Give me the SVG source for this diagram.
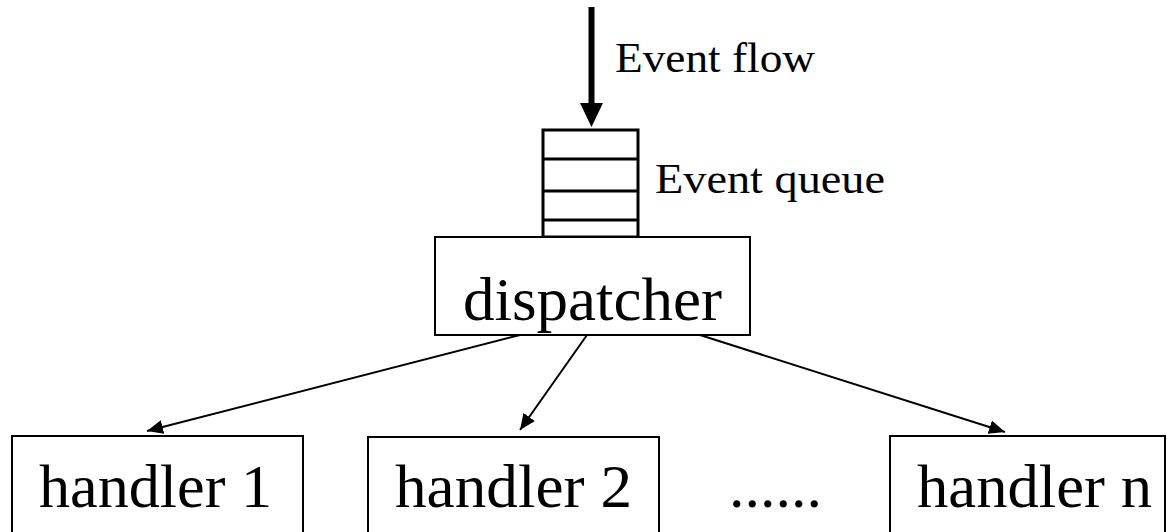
<svg xmlns="http://www.w3.org/2000/svg" width="1167" height="532" viewBox="0 0 1167 532">
  <style>
    .box { fill: #fff; stroke: #000; stroke-width: 2; }
    .queue { fill: #fff; stroke: #000; stroke-width: 3; }
    .big { font-family: "Liberation Serif", "Times New Roman", serif; font-size: 62px; fill: #000; }
    .small { font-family: "Liberation Serif", "Times New Roman", serif; font-size: 42px; fill: #000; }
    .link { stroke: #000; stroke-width: 2; fill: none; marker-end: url(#head); }
  </style>
  <defs>
    <marker id="head" markerUnits="userSpaceOnUse" markerWidth="18" markerHeight="14" refX="16" refY="7" orient="auto">
      <path d="M0,0 L16,7 L0,14 Z" fill="#000"/>
    </marker>
  </defs>
  <rect width="1167" height="532" fill="#fff"/>

  <!-- incoming event flow -->
  <g id="event-flow">
    <rect x="588.5" y="7" width="6" height="97" fill="#000"/>
    <path d="M580,103 L603,103 L591.5,127 Z" fill="#000"/>
    <text class="small" x="615" y="72" textLength="200" lengthAdjust="spacingAndGlyphs">Event flow</text>
  </g>

  <!-- event queue -->
  <g id="event-queue">
    <rect class="queue" x="543" y="130" width="95" height="107"/>
    <line x1="543" y1="159" x2="638" y2="159" stroke="#000" stroke-width="3"/>
    <line x1="543" y1="191" x2="638" y2="191" stroke="#000" stroke-width="3"/>
    <line x1="543" y1="220" x2="638" y2="220" stroke="#000" stroke-width="3"/>
    <text class="small" x="655" y="193" textLength="230" lengthAdjust="spacingAndGlyphs">Event queue</text>
  </g>

  <!-- dispatcher -->
  <g id="dispatcher">
    <rect class="box" x="435" y="237" width="315" height="98"/>
    <text class="big" x="463" y="320" textLength="259" lengthAdjust="spacingAndGlyphs">dispatcher</text>
  </g>

  <!-- connectors -->
  <g id="connectors">
    <line class="link" x1="520" y1="335" x2="147" y2="431"/>
    <line class="link" x1="587" y1="335" x2="520" y2="430"/>
    <line class="link" x1="700" y1="335" x2="1005" y2="432"/>
  </g>

  <!-- handlers -->
  <g id="handler-1">
    <rect class="box" x="12" y="436" width="291" height="110"/>
    <text class="big" x="39" y="507" textLength="233" lengthAdjust="spacingAndGlyphs">handler 1</text>
  </g>
  <g id="handler-2">
    <rect class="box" x="368" y="437" width="291" height="110"/>
    <text class="big" x="395" y="507" textLength="237" lengthAdjust="spacingAndGlyphs">handler 2</text>
  </g>
  <g id="ellipsis">
    <text class="big" x="729" y="507">......</text>
  </g>
  <g id="handler-n">
    <rect class="box" x="890" y="436" width="275" height="110"/>
    <text class="big" x="917" y="507" textLength="235" lengthAdjust="spacingAndGlyphs">handler n</text>
  </g>
</svg>
